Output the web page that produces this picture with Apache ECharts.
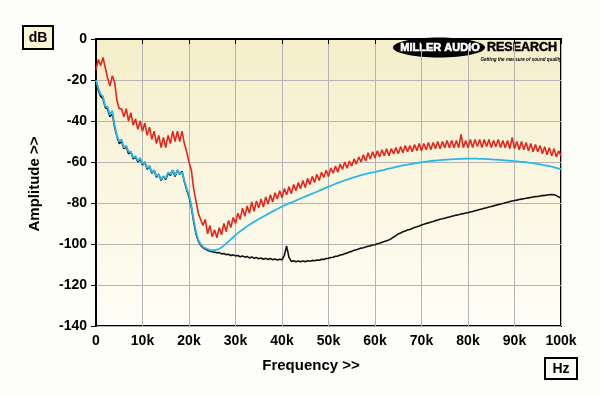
<!DOCTYPE html>
<html>
<head>
<meta charset="utf-8">
<script src="https://cdn.jsdelivr.net/npm/echarts@6/dist/echarts.min.js"></script>
<style>
html,body{margin:0;padding:0;background:#fdfdfa;}
#c{width:600px;height:396px;}
</style>
</head>
<body>
<div id="c"></div>
<script>
// Frequency sampling step (Hz) shared by all series
const FREQ_STEP_HZ = 500;

// Red trace (dB), 0 .. 100 kHz in 0.5 kHz steps
const RED = [
-15,-10,-13,-9,-14,-19,-23,-18,-21,-30,-34,-34,-38,-34,-40,-36,-42,-39,-44,-40,
-45,-41,-47,-43,-49,-45,-51,-47,-53,-48,-53,-47,-51,-45,-50,-45,-50,-45,-51,-55,
-60,-64,-73,-79,-85,-88,-91,-88,-95,-91,-96.5,-93,-97,-92,-95.5,-90,-94,-88.5,-92,-87,
-90,-85,-88,-82.5,-86.5,-81.5,-85,-79.5,-84,-79,-82.5,-78,-82,-77,-80.5,-76,-79.5,-75,-78,-74,
-77.5,-73,-76,-72,-75.5,-71,-74,-70,-73,-69,-72.5,-68,-71,-67,-70,-66,-69,-65,-67.5,-64,
-67,-63,-65.5,-62,-65,-61,-63.5,-60,-63,-59.5,-62,-58.5,-61,-57.5,-60,-56.5,-59.5,-55.5,-58.5,-55,
-58,-54.5,-57.5,-54,-57,-53.5,-57,-53.5,-56,-53,-56,-52.5,-55.5,-52,-55,-52,-55,-51.5,-54.5,-51,
-54.5,-51,-54,-50.5,-54,-50.5,-53.5,-50,-53.5,-50,-53,-49.5,-53,-49.5,-53,-49.5,-53,-46.5,-53,-49.5,
-53,-49,-53,-49,-52.5,-49,-53,-49,-52.5,-49,-53,-49.5,-52.5,-49,-53,-49.5,-53,-49.5,-53.5,-48,
-53.5,-50,-54,-50,-54,-50.5,-54.5,-51,-55,-51.5,-55,-52,-56,-52.5,-56.5,-53,-57,-53.5,-57.5,-54.5,
-57
];

// Blue trace (dB)
const BLUE = [
-20,-24,-27,-28,-33,-33,-37,-35,-42,-47,-50,-49,-53,-52,-55,-55,-58,-57,-59.5,-58,
-61,-60,-63,-62,-65,-64,-67,-66,-68.5,-67,-68,-65,-66,-64,-66.5,-64,-66,-65,-69,-73,
-76,-81,-88,-94,-98,-100,-101.3,-102,-102.5,-103,-103,-103,-102.8,-102.3,-101.7,-100.8,-99.8,-98.8,-97.7,-96.7,
-95.7,-94.7,-93.8,-93,-92.2,-91.4,-90.6,-89.9,-89.2,-88.5,-87.8,-87.2,-86.6,-86,-85.3,-84.7,-84.1,-83.5,-82.9,-82.3,
-81.8,-81.2,-80.7,-80.2,-79.8,-79.3,-78.8,-78.3,-77.8,-77.3,-76.8,-76.4,-75.9,-75.4,-75,-74.5,-74,-73.5,-73,-72.5,
-72,-71.6,-71.1,-70.7,-70.2,-69.8,-69.4,-69,-68.6,-68.2,-67.8,-67.5,-67.1,-66.8,-66.4,-66.1,-65.8,-65.5,-65.3,-65.1,
-64.9,-64.6,-64.3,-64,-63.8,-63.5,-63.2,-63,-62.7,-62.4,-62.2,-61.9,-61.7,-61.5,-61.3,-61.1,-60.9,-60.7,-60.5,-60.3,
-60.1,-60,-59.8,-59.7,-59.5,-59.4,-59.3,-59.2,-59.1,-59,-58.9,-58.8,-58.7,-58.7,-58.6,-58.6,-58.5,-58.5,-58.5,-58.4,
-58.4,-58.4,-58.4,-58.4,-58.4,-58.5,-58.5,-58.5,-58.6,-58.6,-58.7,-58.8,-58.8,-58.9,-59,-59.1,-59.2,-59.3,-59.4,-59.5,
-59.6,-59.7,-59.8,-59.9,-60,-60.1,-60.3,-60.4,-60.6,-60.8,-61,-61.2,-61.4,-61.6,-61.8,-62,-62.3,-62.6,-62.9,-63.2,
-63.5
];

// Black trace (dB)
const BLACK = [
-21,-25,-28,-29,-33.5,-34,-38,-36,-43,-47.5,-51,-50,-53.5,-52.5,-56,-55,-58.5,-57.5,-60,-58.5,
-61.5,-60,-63.5,-62,-65.5,-64,-67.5,-66,-69,-67,-68.5,-65.5,-66.5,-64,-67,-64,-66,-64.5,-69.5,-73.5,
-77,-82,-89,-95,-98.5,-100.5,-101.8,-102.5,-103,-103.5,-103.8,-104,-104.3,-104.2,-104.8,-104.6,-105.2,-105,-105.6,-105.3,
-105.8,-105.6,-106.2,-105.8,-106.4,-106.1,-106.8,-106.3,-107,-106.6,-107.2,-106.8,-107.4,-107,-107.6,-107.1,-107.7,-107.3,-107.8,-107.4,
-107.7,-105.5,-101,-106.5,-108.5,-108.2,-108.7,-108.3,-108.7,-108.3,-108.6,-108.2,-108.4,-108,-108.2,-107.8,-107.9,-107.5,-107.5,-107.1,
-107,-106.6,-106.5,-106,-105.9,-105.4,-105.2,-104.7,-104.4,-103.9,-103.6,-103.1,-102.8,-102.4,-102,-101.8,-101.5,-101.1,-100.9,-100.5,
-100.4,-99.9,-99.6,-99.1,-98.8,-98.4,-98,-97.4,-96.6,-95.9,-95.1,-94.6,-94,-93.7,-93.2,-92.9,-92.4,-92,-91.6,-91.2,
-90.7,-90.4,-90,-89.7,-89.3,-89,-88.6,-88.3,-87.9,-87.7,-87.4,-87.1,-86.8,-86.5,-86.2,-85.9,-85.7,-85.4,-85.2,-84.9,
-84.7,-84.4,-84.1,-83.8,-83.5,-83.2,-82.9,-82.6,-82.3,-82,-81.7,-81.4,-81.1,-80.8,-80.5,-80.2,-79.9,-79.6,-79.3,-79,
-78.8,-78.6,-78.3,-78.1,-77.9,-77.7,-77.5,-77.3,-77.1,-76.9,-76.8,-76.6,-76.4,-76.3,-76.1,-76,-75.9,-76,-76.4,-77,
-77.6
];

// Axis tick values
const X_TICKS_HZ = [0,10000,20000,30000,40000,50000,60000,70000,80000,90000,100000];
const Y_TICKS_DB = [-140,-120,-100,-80,-60,-40,-20,0];

const FREQ = RED.map((_, i) => i * FREQ_STEP_HZ);
const pairs = arr => arr.map((v, i) => [FREQ[i], v]);

const FONT = '"Liberation Sans", Arial, sans-serif';
const chart = echarts.init(document.getElementById('c'), null, {renderer: 'canvas'});

chart.setOption({
  animation: false,
  backgroundColor: '#fdfdfa',
  grid: {
    left: 96, right: 39, top: 39, bottom: 70,
    show: true,
    backgroundColor: new echarts.graphic.LinearGradient(0, 0, 0, 1, [
      {offset: 0, color: '#f5eec9'},
      {offset: 1, color: '#fffef7'}
    ]),
    borderColor: '#000', borderWidth: 2
  },
  xAxis: {
    type: 'value',
    min: X_TICKS_HZ[0], max: X_TICKS_HZ[X_TICKS_HZ.length - 1],
    interval: X_TICKS_HZ[1] - X_TICKS_HZ[0],
    axisLine: {show: true, lineStyle: {color: '#000', width: 2}},
    axisTick: {show: true, length: 5, lineStyle: {color: '#000', width: 1}},
    splitLine: {show: true, lineStyle: {color: '#b4b4b4', width: 1}},
    axisLabel: {
      margin: 8, color: '#000', fontFamily: FONT, fontWeight: 'bold', fontSize: 14,
      formatter: v => v === 0 ? '0' : (v / 1000) + 'k'
    }
  },
  yAxis: {
    type: 'value',
    min: Y_TICKS_DB[0], max: Y_TICKS_DB[Y_TICKS_DB.length - 1],
    interval: Y_TICKS_DB[1] - Y_TICKS_DB[0],
    axisLine: {show: true, lineStyle: {color: '#000', width: 2}},
    axisTick: {show: true, length: 5, lineStyle: {color: '#000', width: 1}},
    splitLine: {show: true, lineStyle: {color: '#b4b4b4', width: 1}},
    axisLabel: {
      margin: 9, color: '#000', fontFamily: FONT, fontWeight: 'bold', fontSize: 14
    }
  },
  series: [
    {type: 'line', data: pairs(BLACK), showSymbol: false, lineStyle: {color: '#111111', width: 1.6}, z: 2},
    {type: 'line', data: pairs(BLUE), showSymbol: false, lineStyle: {color: '#2bb6ea', width: 1.8}, z: 3},
    {type: 'line', data: pairs(RED), showSymbol: false, lineStyle: {color: '#e4261b', width: 1.6}, z: 4}
  ],
  graphic: [
    {type: 'group', left: 22, top: 25, children: [
      {type: 'rect', shape: {x: 0, y: 0, width: 30, height: 23}, style: {fill: '#f8f4d6', stroke: '#000', lineWidth: 2}},
      {type: 'text', x: 15, y: 12, style: {text: 'dB', fill: '#000', font: 'bold 14px ' + FONT, align: 'center', verticalAlign: 'middle'}}
    ]},
    {type: 'group', left: 544, top: 357, children: [
      {type: 'rect', shape: {x: 0, y: 0, width: 32, height: 21}, style: {fill: '#fdfdfa', stroke: '#000', lineWidth: 2}},
      {type: 'text', x: 16, y: 11, style: {text: 'Hz', fill: '#000', font: 'bold 14px ' + FONT, align: 'center', verticalAlign: 'middle'}}
    ]},
    {type: 'text', x: 311, y: 366, style: {text: 'Frequency >>', fill: '#000', font: 'bold 15px ' + FONT, align: 'center', verticalAlign: 'middle'}},
    {type: 'text', x: 35, y: 184, rotation: Math.PI / 2, style: {text: 'Amplitude >>', fill: '#000', font: 'bold 15px ' + FONT, align: 'center', verticalAlign: 'middle'}},
    {type: 'group', z: 100, children: [
      {type: 'ellipse', shape: {cx: 439, cy: 47.5, rx: 46, ry: 10}, style: {fill: '#000'}},
      {type: 'text', x: 440, y: 48, style: {text: 'MILLER AUDIO', fill: '#fff', stroke: '#fff', lineWidth: 0.6, font: 'bold 11px ' + FONT, align: 'center', verticalAlign: 'middle'}},
      {type: 'text', x: 522, y: 48, style: {text: 'RESEARCH', fill: '#000', stroke: '#000', lineWidth: 0.5, font: 'bold 12.5px ' + FONT, align: 'center', verticalAlign: 'middle'}},
      {type: 'text', x: 521, y: 59.5, style: {text: 'Getting the measure of sound quality', fill: '#000', font: 'italic bold 4.6px ' + FONT, align: 'center', verticalAlign: 'middle'}}
    ]}
  ]
});
</script>
</body>
</html>
